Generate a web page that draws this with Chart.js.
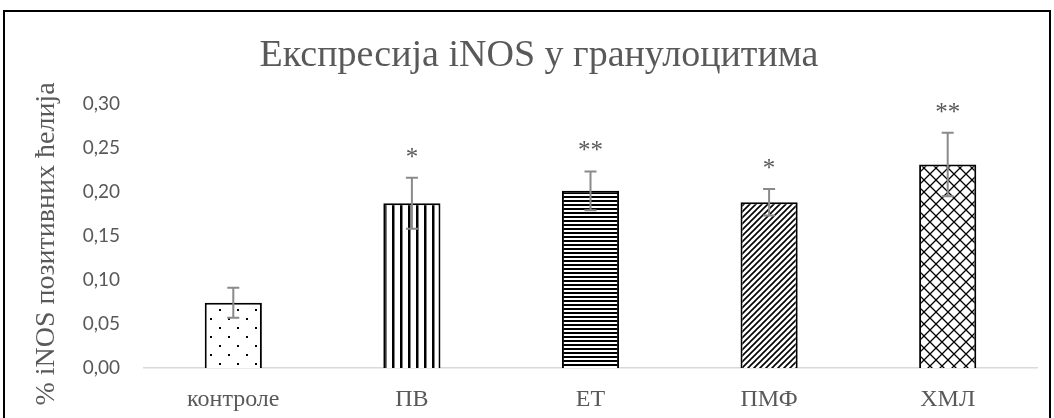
<!DOCTYPE html>
<html>
<head>
<meta charset="utf-8">
<script src="https://cdn.jsdelivr.net/npm/chart.js@4.4.1/dist/chart.umd.min.js"></script>
<style>
  html, body { margin: 0; padding: 0; background: #ffffff; }
  #wrap { position: relative; width: 1054px; height: 418px; }
  #c { display: block; }
</style>
</head>
<body>
<div id="wrap"><canvas id="c" width="1054" height="418"></canvas></div>
<script>
// Groups and measured share of iNOS-positive cells (mean and error)
const categories = ['контроле', 'ПВ', 'ЕТ', 'ПМФ', 'ХМЛ'];
const meanValues = [0.074, 0.187, 0.201, 0.188, 0.231];
const errorValues = [0.017, 0.029, 0.022, 0.015, 0.036];
const significance = ['', '*', '**', '*', '**'];
const yTicks = [0, 0.05, 0.10, 0.15, 0.20, 0.25, 0.30];

const chartTitle = 'Експресија iNOS у гранулоцитима';
const yAxisTitle = '% iNOS позитивних ћелија';

const TEXT_GREY = '#595959';
const SERIF = '"Liberation Serif", "DejaVu Serif", serif';

// Fill patterns for each bar
function makeTile(w, h, draw) {
  const c = document.createElement('canvas');
  c.width = w; c.height = h;
  const g = c.getContext('2d');
  g.fillStyle = '#ffffff';
  g.fillRect(0, 0, w, h);
  draw(g, w, h);
  return document.getElementById('c').getContext('2d').createPattern(c, 'repeat');
}

const patDots = makeTile(18, 18, (g) => {
  g.fillStyle = '#000';
  g.fillRect(3, 3, 2, 2);
  g.fillRect(12, 12, 2, 2);
});
const patVertical = makeTile(8, 8, (g, w, h) => {
  g.fillStyle = '#000';
  g.fillRect(0, 0, 2.5, h);
});
const patHorizontal = makeTile(4, 4, (g, w) => {
  g.fillStyle = '#000';
  g.fillRect(0, 0, w, 2);
});
const patDiagonal = makeTile(6, 6, (g, w, h) => {
  g.strokeStyle = '#000';
  g.lineWidth = 1.6;
  g.beginPath();
  g.moveTo(-1, h + 1); g.lineTo(w + 1, -1);
  g.moveTo(-1 - w, h + 1); g.lineTo(1, -1);
  g.moveTo(w - 1, h + 1); g.lineTo(2 * w + 1, -1);
  g.stroke();
});
const patCross = makeTile(12, 12, (g, w, h) => {
  g.strokeStyle = '#000';
  g.lineWidth = 1.3;
  g.beginPath();
  g.moveTo(0, 0); g.lineTo(w, h);
  g.moveTo(w, 0); g.lineTo(0, h);
  g.stroke();
});
const barPatterns = [patDots, patVertical, patHorizontal, patDiagonal, patCross];

// Outer frame, error bars, significance stars and rotated axis title
const decorations = {
  id: 'decorations',
  beforeDraw(chart) {
    const ctx = chart.ctx;
    ctx.save();
    ctx.strokeStyle = '#000';
    ctx.lineWidth = 2;
    ctx.strokeRect(4, 11, 1046, 430);
    ctx.restore();
  },
  afterDatasetsDraw(chart) {
    const ctx = chart.ctx;
    const xs = chart.scales.x;
    const ys = chart.scales.y;
    ctx.save();
    meanValues.forEach((m, i) => {
      const x = xs.getPixelForValue(i);
      const yHi = ys.getPixelForValue(m + errorValues[i]);
      const yLo = ys.getPixelForValue(m - errorValues[i]);
      ctx.strokeStyle = '#8a8a8a';
      ctx.lineWidth = 2;
      ctx.beginPath();
      ctx.moveTo(x, yHi); ctx.lineTo(x, yLo);
      ctx.moveTo(x - 6, yHi); ctx.lineTo(x + 6, yHi);
      ctx.moveTo(x - 6, yLo); ctx.lineTo(x + 6, yLo);
      ctx.stroke();
      if (significance[i]) {
        ctx.fillStyle = TEXT_GREY;
        ctx.font = '25px ' + SERIF;
        ctx.textAlign = 'center';
        ctx.textBaseline = 'alphabetic';
        ctx.fillText(significance[i], x, yHi - 13);
      }
    });
    ctx.translate(47, 244);
    ctx.rotate(-Math.PI / 2);
    ctx.fillStyle = TEXT_GREY;
    ctx.font = '28px ' + SERIF;
    ctx.textAlign = 'center';
    ctx.textBaseline = 'middle';
    ctx.fillText(yAxisTitle, 0, 0);
    ctx.restore();
  }
};

new Chart(document.getElementById('c'), {
  type: 'bar',
  data: {
    labels: categories,
    datasets: [{
      data: meanValues,
      backgroundColor: barPatterns,
      borderColor: '#000000',
      borderWidth: 2,
      borderSkipped: 'bottom',
      categoryPercentage: 1.0,
      barPercentage: 0.32
    }]
  },
  options: {
    responsive: false,
    animation: false,
    devicePixelRatio: 1,
    layout: { padding: { left: 41, right: 17, top: 0, bottom: 0 } },
    plugins: {
      legend: { display: false },
      tooltip: { enabled: false },
      title: {
        display: true,
        text: chartTitle,
        color: TEXT_GREY,
        font: { family: SERIF, size: 38, weight: 'normal', lineHeight: 1.2 },
        padding: { top: 33, bottom: 25 }
      }
    },
    scales: {
      x: {
        grid: { display: false },
        border: { display: true, color: '#d9d9d9', width: 1.5 },
        ticks: {
          color: TEXT_GREY,
          font: { family: SERIF, size: 24 },
          padding: 9,
          maxRotation: 0
        },
        afterFit(scale) { scale.height = 50; }
      },
      y: {
        min: 0,
        max: 0.30,
        grid: { display: false },
        border: { display: false },
        afterBuildTicks(scale) { scale.ticks = yTicks.map(v => ({ value: v })); },
        ticks: {
          color: TEXT_GREY,
          font: { family: 'Lato, "Open Sans", sans-serif', size: 19 },
          padding: 16,
          callback: (v) => Number(v).toFixed(2).replace('.', ',')
        },
        afterFit(scale) { scale.width = 103; }
      }
    }
  },
  plugins: [decorations]
});
</script>
</body>
</html>
